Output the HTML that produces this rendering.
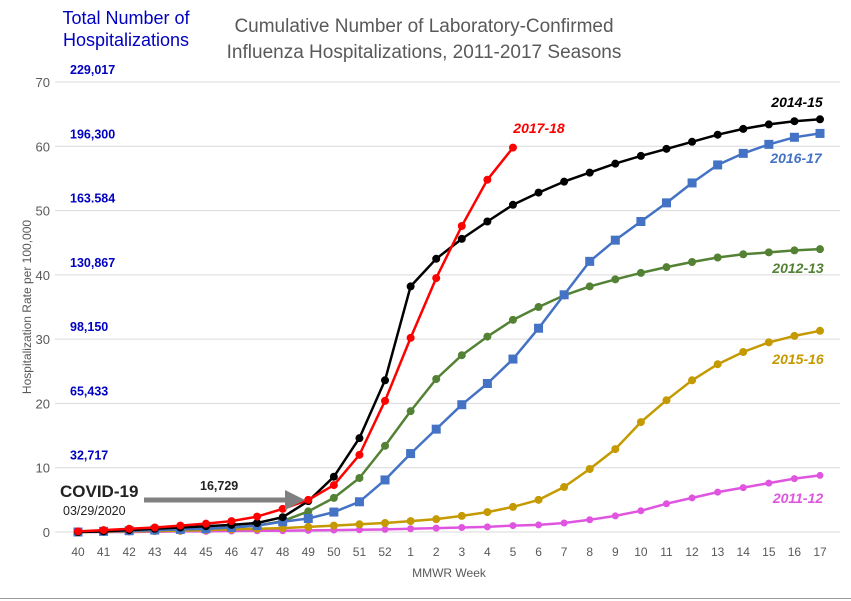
<!DOCTYPE html>
<html><head><meta charset="utf-8">
<style>
html,body{margin:0;padding:0;background:#fff;}
svg{display:block;font-family:"Liberation Sans",Arial,sans-serif;}
</style></head>
<body>
<svg id="chart" width="851" height="601" viewBox="0 0 851 601" xmlns="http://www.w3.org/2000/svg">
<rect x="0" y="0" width="851" height="601" fill="#fff"/>
<line x1="0" y1="598.5" x2="851" y2="598.5" stroke="#999" stroke-width="1"/>
<text x="424" y="32" text-anchor="middle" font-size="19" fill="#595959">Cumulative Number of Laboratory-Confirmed</text>
<text x="424" y="58" text-anchor="middle" font-size="19" fill="#595959">Influenza Hospitalizations, 2011-2017 Seasons</text>
<text x="126" y="24" text-anchor="middle" font-size="18" fill="#0000c0">Total Number of</text>
<text x="126" y="46" text-anchor="middle" font-size="18" fill="#0000c0">Hospitalizations</text>
<text transform="translate(31,307) rotate(-90)" text-anchor="middle" font-size="12" fill="#595959">Hospitalization Rate per 100,000</text>
<text x="449" y="577" text-anchor="middle" font-size="12" fill="#595959">MMWR Week</text>
<g id="grid"></g><g id="series"></g><g id="labels"></g>
<text x="60" y="497" font-size="17" font-weight="bold" fill="#222">COVID-19</text>
<text x="63" y="515" font-size="12.5" fill="#222">03/29/2020</text>
<text x="200" y="490" font-size="12.5" font-weight="bold" fill="#222">16,729</text>
<line x1="144" y1="500" x2="288" y2="500" stroke="#808080" stroke-width="5"/>
<polygon points="285,490 305,500 285,510" fill="#808080"/>
</svg>
<script>
const weeks=["40","41","42","43","44","45","46","47","48","49","50","51","52","1","2","3","4","5","6","7","8","9","10","11","12","13","14","15","16","17"];
const yTicks=[0,10,20,30,40,50,60,70];
const hospTotals=["","32,717","65,433","98,150","130,867","163.584","196,300","229,017"];
const s1112=[0,0,0,0.05,0.1,0.1,0.15,0.2,0.2,0.25,0.3,0.35,0.4,0.5,0.6,0.7,0.8,1.0,1.1,1.4,1.9,2.5,3.3,4.4,5.3,6.2,6.9,7.6,8.3,8.8];
const s1213=[0,0.1,0.2,0.3,0.4,0.5,0.7,1.0,1.7,3.2,5.3,8.4,13.4,18.8,23.8,27.5,30.4,33.0,35.0,36.8,38.2,39.3,40.3,41.2,42.0,42.7,43.2,43.5,43.8,44.0];
const s1415=[0,0.1,0.3,0.5,0.7,0.9,1.1,1.4,2.3,4.8,8.6,14.6,23.6,38.2,42.5,45.6,48.3,50.9,52.8,54.5,55.9,57.3,58.5,59.6,60.7,61.8,62.7,63.4,63.9,64.2];
const s1516=[0,0.05,0.1,0.15,0.2,0.3,0.4,0.5,0.6,0.8,1.0,1.2,1.4,1.7,2.0,2.5,3.1,3.9,5.0,7.0,9.8,12.9,17.1,20.5,23.6,26.1,28.0,29.5,30.5,31.3];
const s1617=[0,0.1,0.2,0.3,0.4,0.5,0.7,1.0,1.6,2.1,3.1,4.7,8.1,12.2,16.0,19.8,23.1,26.9,31.7,36.9,42.1,45.4,48.3,51.2,54.3,57.1,58.9,60.3,61.4,62.0];
const s1718=[0.1,0.3,0.5,0.7,1.0,1.3,1.7,2.4,3.6,5.0,7.3,12.0,20.4,30.2,39.5,47.6,54.8,59.8];

const NS="http://www.w3.org/2000/svg";
const x0=78,x1=820,yBase=532,yTop=82,yMax=70;
function xs(i){return x0+i*(x1-x0)/(weeks.length-1);}
function ys(v){return yBase-v*(yBase-yTop)/yMax;}
function mk(tag,attrs,parent){const e=document.createElementNS(NS,tag);for(const k in attrs)e.setAttribute(k,attrs[k]);parent.appendChild(e);return e;}
const grid=document.getElementById('grid');
yTicks.forEach((t,i)=>{
  const l=mk('line',{x1:55,x2:840,y1:ys(t),y2:ys(t),stroke:'#d9d9d9','stroke-width':1},grid);
  
  
  const tx=mk('text',{x:50,y:ys(t)+5,'text-anchor':'end','font-size':13,fill:'#595959'},grid);
  tx.textContent=t;
  
  
  if(hospTotals[i]){
    const h=mk('text',{x:70,y:ys(t)-8,'font-size':12.5,'font-weight':'bold',fill:'#0000c0'},grid);
    h.textContent=hospTotals[i];
    
    
  }
});
weeks.forEach((w,i)=>{
  const tx=mk('text',{x:xs(i),y:556,'text-anchor':'middle','font-size':12,fill:'#595959'},grid);
  tx.textContent=w;
  
  
});
const seriesG=document.getElementById('series');
const defs=[
 {d:s1112,c:'#e055e0',n:'2011-12',m:'dia',lx:798,ly:503},
 {d:s1516,c:'#c49a00',n:'2015-16',m:'dot',lx:798,ly:364},
 {d:s1213,c:'#548235',n:'2012-13',m:'dot',lx:798,ly:273},
 {d:s1617,c:'#4472c4',n:'2016-17',m:'sq',lx:796,ly:163},
 {d:s1415,c:'#000000',n:'2014-15',m:'dot',lx:797,ly:107},
 {d:s1718,c:'#ff0000',n:'2017-18',m:'dot',lx:539,ly:133}
];
const labG=document.getElementById('labels');
defs.forEach(s=>{
  const g=mk('g',{},seriesG);
  
  
  const pts=s.d.map((v,i)=>xs(i).toFixed(1)+','+ys(v).toFixed(1)).join(' ');
  const pl=mk('polyline',{points:pts,fill:'none',stroke:s.c,'stroke-width':2.5,'stroke-linejoin':'round'},g);
  
  
  s.d.forEach((v,i)=>{
    let e;
    if(s.m==='sq') e=mk('rect',{x:xs(i)-4.5,y:ys(v)-4.5,width:9,height:9,fill:s.c},g);
    else e=mk('circle',{cx:xs(i),cy:ys(v),r:s.m==='dia'?3.5:4,fill:s.c},g);
    
    
  });
  const t=mk('text',{x:s.lx,y:s.ly,'text-anchor':'middle','font-size':14,'font-weight':'bold','font-style':'italic',fill:s.c},labG);
  t.textContent=s.n;
  
  
});
</script>
</body></html>
